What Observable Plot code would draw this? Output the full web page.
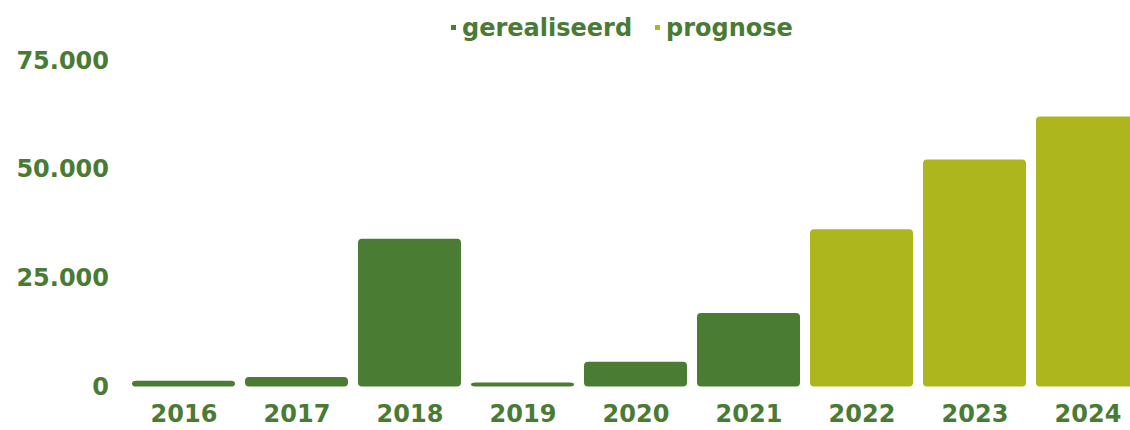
<!DOCTYPE html>
<html>
<head>
<meta charset="utf-8">
<script src="https://cdn.jsdelivr.net/npm/d3@7"></script>
<script src="https://cdn.jsdelivr.net/npm/@observablehq/plot@0.6"></script>
<style>
  html, body { margin: 0; padding: 0; background: #fff; overflow: hidden; width: 1130px; height: 430px; }
  #legend { height: 48px; position: relative; font-family: "DejaVu Sans", sans-serif; font-weight: bold; font-size: 24px; color: #4a7b34; }
  .item { position: absolute; top: 15px; line-height: 26px; white-space: nowrap; }
  .sw { display: inline-block; width: 5px; height: 5px; vertical-align: middle; margin-right: 6px; position: relative; top: -2px; }
  #chart svg { max-width: none !important; }
</style>
</head>
<body>
<div id="legend"></div>
<div id="chart"></div>
<script>
const years = ["2016", "2017", "2018", "2019", "2020", "2021", "2022", "2023", "2024"];
const values = [1300, 2200, 34000, 900, 5700, 16900, 36200, 52200, 62100];
const status = ["gerealiseerd", "gerealiseerd", "gerealiseerd", "gerealiseerd", "gerealiseerd", "gerealiseerd", "prognose", "prognose", "prognose"];
const seriesNames = ["gerealiseerd", "prognose"];
const seriesColors = ["#4a7c33", "#adb61c"];
const yTicks = [0, 25000, 50000, 75000];

const data = years.map((y, i) => ({year: y, value: values[i], status: status[i]}));
const textColor = "#4a7b34";

// legend
const legend = document.getElementById("legend");
const legendX = [451, 655];
seriesNames.forEach((name, i) => {
  const it = document.createElement("div");
  it.className = "item";
  it.style.left = legendX[i] + "px";
  const sw = document.createElement("span");
  sw.className = "sw";
  sw.style.background = seriesColors[i];
  it.appendChild(sw);
  it.appendChild(document.createTextNode(name));
  legend.appendChild(it);
});

const fmt = d => d3.format(",")(d).replace(/,/g, ".");

const chart = Plot.plot({
  width: 1150,
  height: 382,
  marginLeft: 120.5,
  marginRight: 0,
  marginTop: 12.5,
  marginBottom: 43.5,
  style: {fontFamily: "DejaVu Sans, sans-serif", fontWeight: "bold", fontSize: "24px", color: textColor, background: "#fff", maxWidth: "none"},
  x: {domain: years, padding: 0.09, label: null},
  y: {domain: [0, 75000], label: null},
  color: {domain: seriesNames, range: seriesColors},
  marks: [
    Plot.barY(data, {x: "year", y: "value", fill: "status", rx: 4}),
    Plot.axisY({ticks: yTicks, tickSize: 0, tickPadding: 12, tickFormat: fmt, label: null, fill: textColor}),
    Plot.axisX({tickSize: 0, tickPadding: 18, label: null, fill: textColor})
  ]
});
document.getElementById("chart").appendChild(chart);
</script>
</body>
</html>
